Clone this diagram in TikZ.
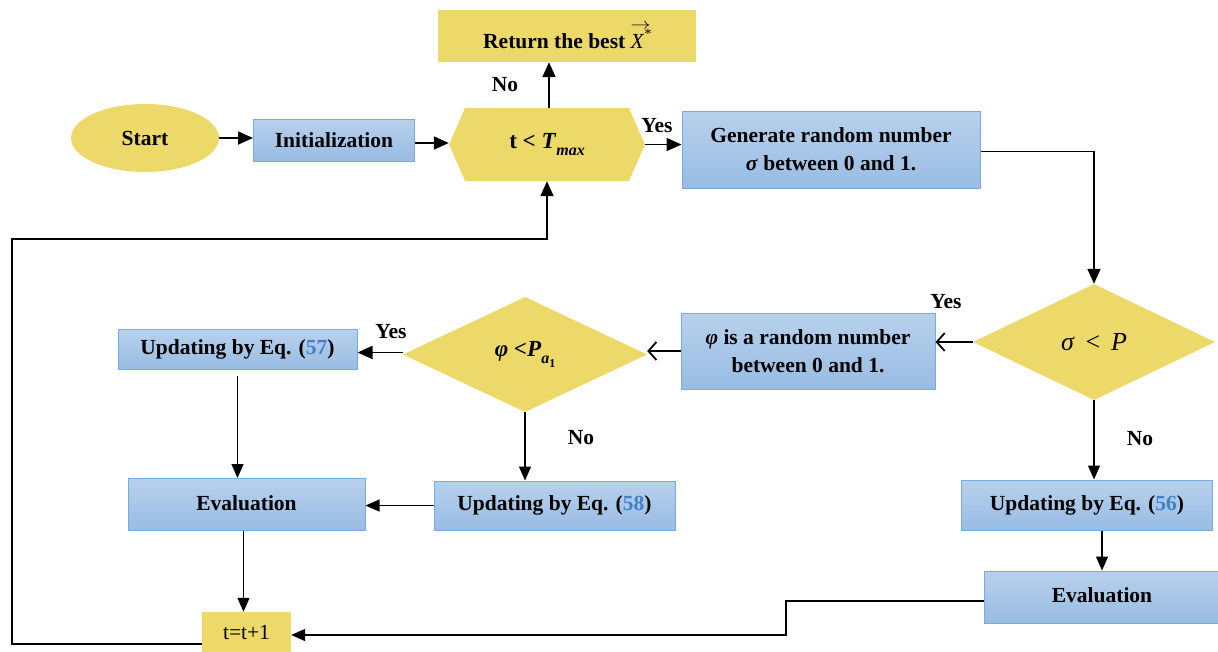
\documentclass[tikz,border=0pt]{standalone}
\usepackage{fontspec}
\setmainfont{Liberation Serif}
\usetikzlibrary{arrows.meta,shapes.geometric,calc}
\definecolor{yel}{RGB}{237,217,106}
\definecolor{bluetop}{RGB}{184,209,236}
\definecolor{bluebot}{RGB}{152,188,227}
\definecolor{blueedge}{RGB}{118,170,224}
\definecolor{numblue}{RGB}{66,128,200}
\newcommand{\subtxt}[1]{\raisebox{-0.28em}{\fontsize{16}{16}\selectfont #1}}
\newcommand{\subsubtxt}[1]{\raisebox{-0.25em}{\fontsize{12}{12}\selectfont #1}}
\newsavebox{\xstarbox}
\newcommand{\vecXstar}{%
  \sbox{\xstarbox}{\mdseries\itshape X\raisebox{0.42em}{\fontsize{14}{14}\selectfont *}}%
  \usebox{\xstarbox}\llap{\raisebox{0.85em}{\resizebox{\wd\xstarbox}{6pt}{$\rightarrow$}}}}
\begin{document}
\begin{tikzpicture}[x=1pt,y=-1pt,
  font=\fontsize{21.5}{28}\selectfont\bfseries,
  bbox/.style={draw=blueedge, line width=1pt, top color=bluetop, bottom color=bluebot, inner sep=0pt, align=center},
  ybox/.style={fill=yel, draw=none, inner sep=0pt, align=center},
  plain/.style={inner sep=0pt, align=center},
  arr/.style={-{Triangle[length=15pt,width=13pt]}, line width=1.8pt},
  tarr/.style={-{Triangle[length=14pt,width=12pt]}, line width=1.3pt},
  oarr/.style={-{Straight Barb[length=8pt,width=18pt,line width=1.8pt]}, line width=1.8pt},
  lbl/.style={inner sep=0pt}]
\useasboundingbox (0,0) rectangle (1218,651);

% shapes
\node[ybox, ellipse, minimum width=148, minimum height=68] (start) at (145,138) {Start};
\node[bbox, minimum width=161, minimum height=42] (init) at (334,140) {Initialization};
\fill[yel] (449,144.5) -- (465,108) -- (629,108) -- (645,144.5) -- (629,181) -- (465,181) -- cycle;
\node[plain, minimum width=196, minimum height=73] (hex) at (547,144.5) {\fontsize{23}{28}\selectfont t < \textit{T}\subtxt{\textit{max}}};
\node[ybox, minimum width=258, minimum height=52] (ret) at (567,36) {Return the best \vecXstar};
\node[bbox, minimum width=298, minimum height=77] (gen) at (831,149.5) {Generate random number\\\textit{σ} between 0 and 1.};

\fill[yel] (1094,284) -- (1215,342) -- (1094,400) -- (973,342) -- cycle;
\node[plain, minimum width=242, minimum height=116] (sig) at (1094,342) {\mdseries\fontsize{26}{28}\selectfont\textit{σ}\, <\, \textit{P}};

\node[bbox, minimum width=254, minimum height=76] (phi) at (808,351) {\textit{φ} is a random number\\between 0 and 1.};

\fill[yel] (525,297) -- (647,354.5) -- (525,412) -- (403,354.5) -- cycle;
\node[plain, minimum width=244, minimum height=115] (phd) at (525,354.5) {\fontsize{23}{28}\selectfont\textit{φ} <\textit{P}\subtxt{\textit{a}\subsubtxt{1}}};

\node[bbox, minimum width=239, minimum height=40] (u57) at (237.5,349.5) {Updating by Eq. ({\color{numblue}57})};
\node[bbox, minimum width=237, minimum height=52] (ev1) at (246.5,504.5) {\raisebox{3pt}{Evaluation}};
\node[bbox, minimum width=241, minimum height=49] (u58) at (554.5,505.5) {Updating by Eq. ({\color{numblue}58})};
\node[bbox, minimum width=251, minimum height=50] (u56) at (1087,505) {Updating by Eq. ({\color{numblue}56})};
\node[bbox, minimum width=236, minimum height=52] (ev2) at (1102,597) {\raisebox{3pt}{Evaluation}};
\node[ybox, minimum width=89, minimum height=40] (tt) at (246.5,632) {\mdseries t=t+1};

% labels
\node[lbl] (no1) at (505,85) {No};
\node[lbl] (yes1) at (657,126) {Yes};
\node[lbl] (yes2) at (946,302) {Yes};
\node[lbl] (yes3) at (391,332) {Yes};
\node[lbl] (no2) at (581,438) {No};
\node[lbl] (no3) at (1140,439) {No};

% connectors
\draw[arr] (start.east) -- (start.east -| init.west);
\draw[arr] ([yshift=-3pt]init.east) -- ([yshift=-3pt]init.east -| hex.west);
\draw[arr] ([xshift=2pt]hex.north) -- ([xshift=2pt]hex.north |- ret.south);
\draw[arr] (hex.east) -- (hex.east -| gen.west);
\draw[arr] ([yshift=-2pt]gen.east) -| (sig.north);
\draw[oarr] (sig.west) -- (sig.west -| phi.east);
\draw[oarr] (phi.west) -- (phi.west -| phd.east);
\draw[arr] ([yshift=2pt]phd.west) -- ([yshift=2pt]phd.west -| u57.east);
\draw[tarr] ([yshift=-6pt]u57.south) -- (u57.south |- ev1.north);
\draw[tarr] (phd.south) -- (phd.south |- u58.north);
\draw[tarr] (u58.west) -- (u58.west -| ev1.east);
\draw[tarr] ([xshift=-3pt]ev1.south) -- ([xshift=-3pt]ev1.south |- tt.north);
\draw[tarr] (sig.south) -- (sig.south |- u56.north);
\draw[tarr] (ev2.north |- u56.south) -- (ev2.north);
\coordinate (bend) at (786,635);
\draw[tarr] ([yshift=-4pt]ev2.west) -| (bend) -- (bend -| tt.east);
\coordinate (fbl) at (12,239);
\draw[arr] ([yshift=-12pt]tt.west) -| (fbl) -| (hex.south);
\end{tikzpicture}
\end{document}
